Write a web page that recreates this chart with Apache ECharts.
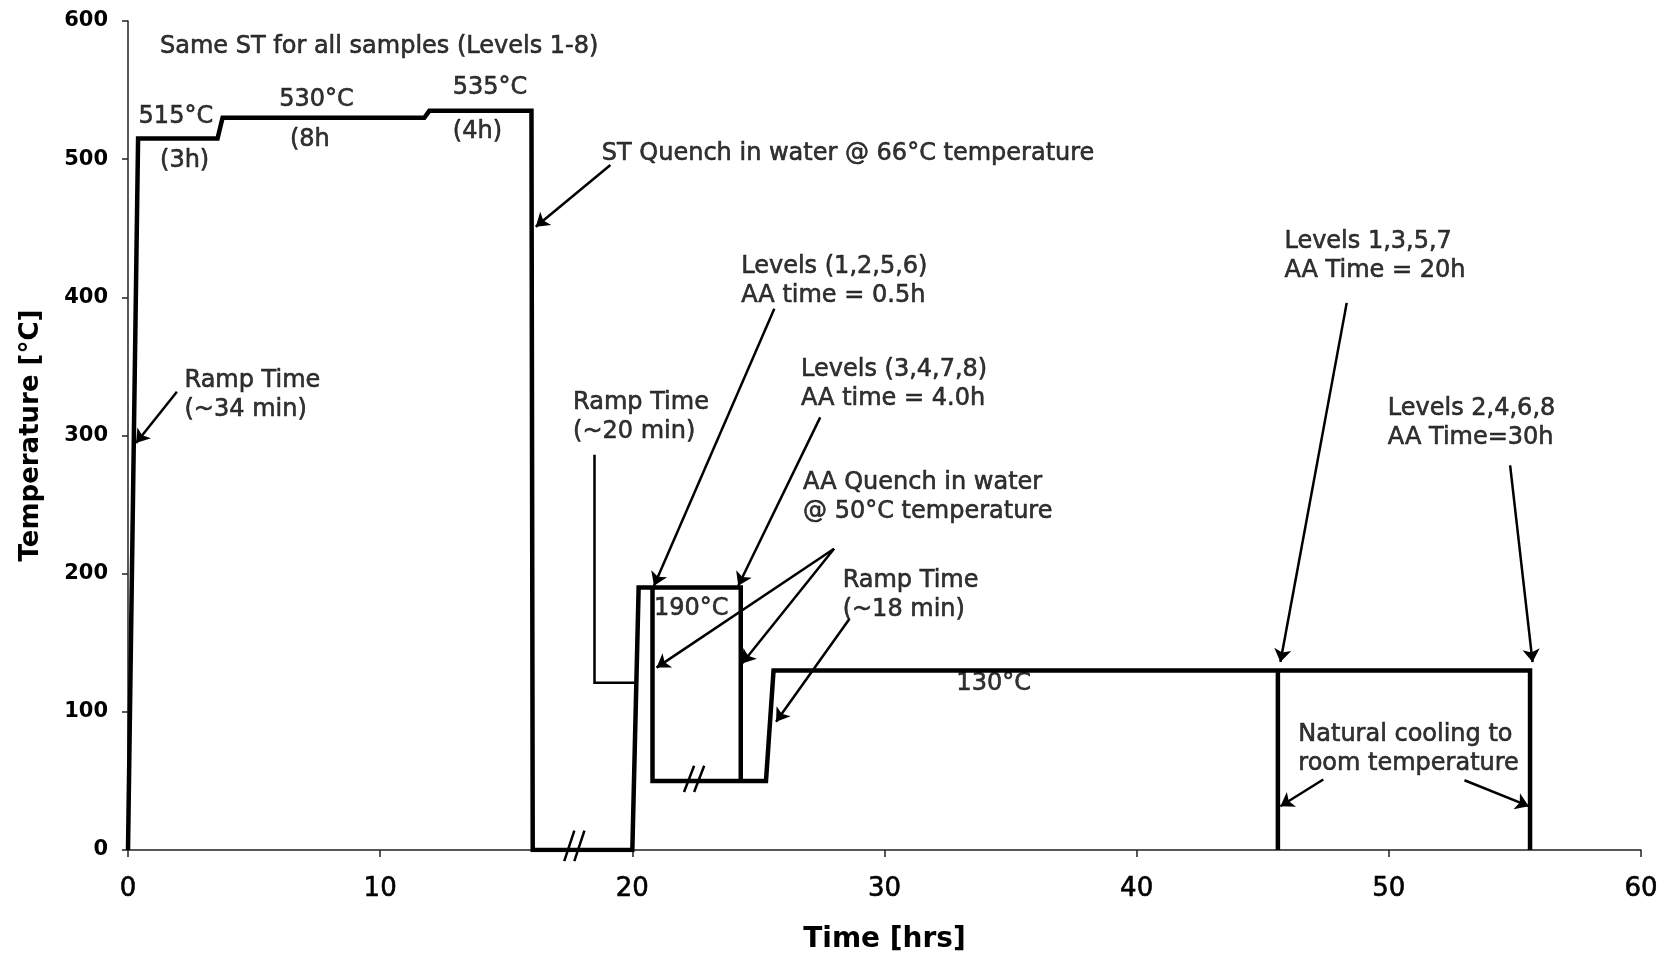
<!DOCTYPE html>
<html><head><meta charset="utf-8">
<script src="https://cdn.jsdelivr.net/npm/echarts@6/dist/echarts.min.js"></script>
<style>html,body{margin:0;padding:0;background:#fff}#c{width:1670px;height:964px}</style>
</head><body><div id="c"></div><script>
// ---- axis ticks ----
const xTicks = [0, 10, 20, 30, 40, 50, 60];
const yTicks = [0, 100, 200, 300, 400, 500, 600];

// ---- heat-treatment profile (time [h], temperature [°C]) ----
const stTime = [0, 0.4, 3.55, 3.75, 11.75, 11.95, 16.0, 16.05, 20.0, 20.25, 24.3, 24.3];
const stTemp = [0, 515, 515, 530, 530, 535, 535, 0, 0, 190, 190, 50];
const aaTime = [20.8, 20.8, 25.3, 25.6, 55.6, 55.6];
const aaTemp = [190, 50, 50, 130, 130, 0];
const cool20Time = [45.6, 45.6];
const cool20Temp = [130, 0];

// ---- annotation texts (anchored at data coordinates) ----
const noteText = [
  "Same ST for all samples (Levels 1-8)",
  "515°C", "(3h)", "530°C", "(8h", "535°C", "(4h)",
  "ST Quench in water @ 66°C temperature",
  "Ramp Time\n(~34 min)",
  "Levels (1,2,5,6)\nAA time = 0.5h",
  "Levels (3,4,7,8)\nAA time = 4.0h",
  "Ramp Time\n(~20 min)",
  "AA Quench in water\n@ 50°C temperature",
  "Ramp Time\n(~18 min)",
  "190°C", "130°C",
  "Levels 1,3,5,7\nAA Time = 20h",
  "Levels 2,4,6,8\nAA Time=30h",
  "Natural cooling to\nroom temperature"
];
const noteX = [1.27, 0.42, 1.27, 6.0, 6.42, 12.88, 12.88, 18.79, 2.24, 24.32, 26.69, 17.65, 26.77, 28.34, 20.86, 32.85, 45.86, 49.96, 46.41];
const noteY = [581.5, 530.6, 499, 543, 514.4, 551.4, 519.8, 503.6, 329.3, 411.8, 337, 313.1, 255.3, 184.3, 174.3, 120.3, 429.6, 308.5, 72.9];

// ---- arrows (from -> to, data coordinates) ----
const arrowFrom = [[1.94, 331.6], [19.13, 495.8], [25.63, 391.8], [27.45, 313.1], [28.0, 218], [28.0, 218], [28.6, 167], [48.33, 396], [54.81, 278.4], [47.4, 51], [53.0, 50.5]];
const arrowTo   = [[0.32, 294.6], [16.17, 451.1], [20.86, 191.3], [24.2, 191.3], [20.96, 132], [24.35, 135], [25.7, 92.8], [45.7, 136], [55.7, 136], [45.7, 31.7], [55.55, 31.7]];
const elbowArrow = [[18.5, 286], [18.5, 121], [20.1, 121]];

// ---- break marks "//" ----
const breakFrom = [[17.3, -8], [17.7, -8], [22.05, 42], [22.45, 42]];
const breakTo   = [[17.7, 14], [18.1, 14], [22.45, 61], [22.85, 61]];

const FONT = 'DejaVu Sans';
const pairs = (xs, ys) => xs.map((x, i) => [x, ys[i]]);
const profileLine = (xs, ys) => ({
  type: 'line', data: pairs(xs, ys), symbol: 'none', animation: false,
  lineStyle: { color: '#000', width: 4.5, join: 'miter' }, z: 3
});

const chart = echarts.init(document.getElementById('c'), null, { renderer: 'canvas' });
chart.setOption({
  backgroundColor: '#fff',
  animation: false,
  grid: { left: 128, right: 29, top: 21, bottom: 114, containLabel: false },
  xAxis: {
    type: 'value', min: xTicks[0], max: xTicks[xTicks.length - 1], interval: xTicks[1] - xTicks[0],
    name: 'Time [hrs]', nameLocation: 'middle', nameGap: 76,
    nameTextStyle: { fontFamily: FONT, fontSize: 28, fontWeight: 'bold', color: '#000' },
    axisLine: { lineStyle: { color: '#222', width: 1.5 } },
    axisTick: { show: true, inside: false, length: 7, lineStyle: { color: '#222', width: 1.5 } },
    axisLabel: { fontFamily: FONT, fontSize: 26, color: '#000', margin: 26,
                 textBorderColor: '#000', textBorderWidth: 0.6 },
    splitLine: { show: false }
  },
  yAxis: {
    type: 'value', min: yTicks[0], max: yTicks[yTicks.length - 1], interval: yTicks[1] - yTicks[0],
    name: 'Temperature [°C]', nameLocation: 'middle', nameGap: 84, nameRotate: 90,
    nameTextStyle: { fontFamily: FONT, fontSize: 26, fontWeight: 'bold', color: '#000' },
    axisLine: { show: true, lineStyle: { color: '#222', width: 1.5 } },
    axisTick: { show: true, inside: false, length: 6, lineStyle: { color: '#222', width: 1.5 } },
    axisLabel: { fontFamily: FONT, fontSize: 21, fontWeight: 'bold', color: '#000', margin: 20 },
    splitLine: { show: false }
  },
  series: [
    profileLine(stTime, stTemp),
    profileLine(aaTime, aaTemp),
    profileLine(cool20Time, cool20Temp),
    {
      type: 'lines', coordinateSystem: 'cartesian2d', clip: false, z: 4,
      symbol: ['none', 'arrow'], symbolSize: 13,
      lineStyle: { color: '#000', width: 2.5, opacity: 1 },
      data: arrowFrom.map((f, i) => ({ coords: [f, arrowTo[i]] }))
    },
    {
      type: 'lines', coordinateSystem: 'cartesian2d', polyline: true, clip: false, z: 4,
      symbol: ['none', 'arrow'], symbolSize: 13,
      lineStyle: { color: '#000', width: 2.5, opacity: 1 },
      data: [{ coords: elbowArrow }]
    },
    {
      type: 'lines', coordinateSystem: 'cartesian2d', clip: false, z: 4,
      symbol: ['none', 'none'],
      lineStyle: { color: '#000', width: 2.5, opacity: 1 },
      data: breakFrom.map((f, i) => ({ coords: [f, breakTo[i]] }))
    },
    {
      type: 'scatter', symbolSize: 0, z: 5, silent: true,
      data: noteText.map((t, i) => ({ name: t, value: [noteX[i], noteY[i]] })),
      label: {
        show: true, position: 'right', distance: 0, formatter: '{b}',
        fontFamily: FONT, fontSize: 24, lineHeight: 29, color: '#000', align: 'left',
        textBorderColor: '#000', textBorderWidth: 0.6
      }
    }
  ]
});
</script></body></html>
